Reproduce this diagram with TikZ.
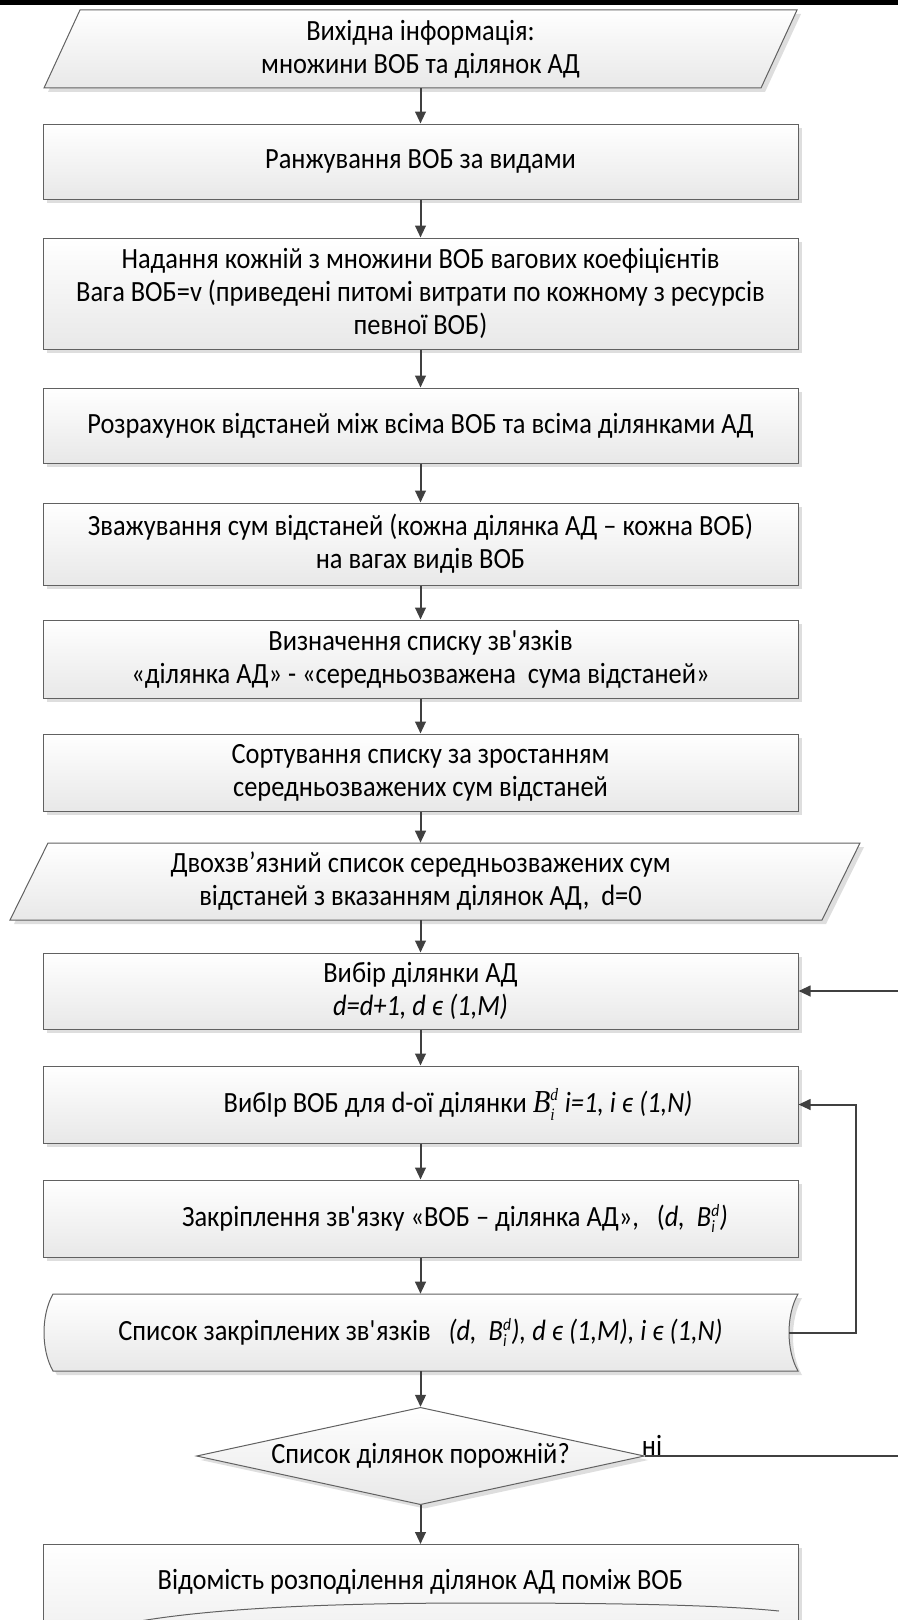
\documentclass[tikz,border=0pt]{standalone}
\usepackage{fontspec}
\setmainfont{Carlito}[FakeStretch=0.9]
\newfontfamily\timesf{Liberation Serif}[FakeStretch=0.9]
\usetikzlibrary{shapes.geometric,arrows.meta,shadows}
\newcommand\scr[1]{\mbox{\fontsize{13}{13}\selectfont #1}}
\newcommand\Bdi{B$^{\scr{d}}_{\scr{i}}$}
\newcommand\sq{\textquotesingle}
\begin{document}
\begin{tikzpicture}[x=0.75pt,y=-0.75pt,
  txt/.style={font={\fontsize{22}{24.75}\selectfont\lineskiplimit=-30pt}, align=center, inner sep=0pt},
  shp/.style={draw=black!62, line width=0.75pt, top color=white, bottom color=black!9,
    drop shadow={shadow xshift=3pt, shadow yshift=-3pt, fill=black!13, opacity=1}},
  box/.style={shp, txt, rectangle, minimum width=566.25pt},
  hole/.style={txt, minimum width=540pt},
  arr/.style={draw=black!75, line width=1.5pt, -{Triangle[length=9pt,width=8pt]}},
  thin/.style={draw=black!62, line width=0.75pt}
]
\useasboundingbox (0,0) rectangle (898,1620);
\fill[black] (0,0) rectangle (898,5);

% 1 input parallelogram
\path[shp] (80,10) -- (797,10) -- (761,88) -- (44,88) -- cycle;
\node[hole, minimum height=58.5pt] (p1) at (420.5,49) {Вихідна інформація:\\множини ВОБ та ділянок АД};

\node[box, minimum height=56.25pt] (b2) at (420.5,161.5) {Ранжування ВОБ за видами};
\node[box, minimum height=83.25pt] (b3) at (420.5,293.5) {Надання кожній з множини ВОБ вагових коефіцієнтів\\Вага ВОБ=v (приведені питомі витрати по кожному з ресурсів\\певної ВОБ)};
\node[box, minimum height=56.25pt] (b4) at (420.5,425.5) {Розрахунок відстаней між всіма ВОБ та всіма ділянками АД};
\node[box, minimum height=61.5pt] (b5) at (420.5,544) {Зважування сум відстаней (кожна ділянка АД – кожна ВОБ)\\на вагах видів ВОБ};
\node[box, minimum height=58.5pt] (b6) at (420.5,659) {Визначення списку зв\sq язків\\«ділянка АД» - «середньозважена\ \ сума відстаней»};
\node[box, minimum height=57.75pt] (b7) at (420.5,772.5) {Сортування списку за зростанням\\середньозважених сум відстаней};

% 8 parallelogram
\path[shp] (48,843) -- (860,843) -- (822,920) -- (10,920) -- cycle;
\node[hole, minimum height=57.75pt] (p8) at (420.5,881.5) {Двохзв’язний список середньозважених сум\\відстаней з вказанням ділянок АД,\ \ d=0};

\node[box, minimum height=57pt] (b9) at (420.5,991) {Вибір ділянки АД\\\textit{d=d+1, d ϵ (1,M)}};
\node[box, minimum height=57.75pt] (b10) at (420.5,1104.5) {};
\node[txt] (t10) at (458,1104.5) {ВибІр ВОБ для d-ої ділянки {\timesf\itshape\fontsize{24}{24}\selectfont\Bdi} \textit{i=1, i ϵ (1,N)}};
\node[box, minimum height=57.75pt] (b11) at (420.5,1218.5) {};
\node[txt] (t11) at (455,1218.5) {Закріплення зв\sq язку «ВОБ – ділянка АД»,\ \ \ (\textit{d,\ \ \Bdi)}};

% 12 stored data
\path[shp] (53,1294) -- (798,1294) .. controls (786,1315) and (786,1350) .. (798,1371)
  -- (53,1371) .. controls (41,1350) and (41,1315) .. (53,1294) -- cycle;
\node[hole, minimum height=57.75pt] (b12) at (420.5,1332.5) {Список закріплених зв\sq язків\ \ \ \textit{(d,\ \ \Bdi), d ϵ (1,M), i ϵ (1,N)}};
\coordinate (s12) at (789,1332.5);

% decision
\node[shp, txt, diamond, shape aspect=4.48, minimum width=336pt, minimum height=73pt] (dia) at (420.5,1456) {Список ділянок порожній?};
\node[txt, anchor=south west, inner sep=0.5pt] (ni) at ([xshift=-3pt]dia.east) {ні};

% final box (cut by the page edge)
\path[shp] (43,1544) rectangle (798,1680);
\draw[thin] (140,1621) .. controls (230,1606) and (360,1603) .. (480,1603)
  .. controls (620,1603) and (720,1605) .. (779,1611);
\node[hole, minimum width=566.25pt, minimum height=57pt, anchor=north] (b13) at (420.5,1544) {Відомість розподілення ділянок АД поміж ВОБ};

% connectors
\draw[arr] (p1) -- (b2);
\draw[arr] (b2) -- (b3);
\draw[arr] (b3) -- (b4);
\draw[arr] (b4) -- (b5);
\draw[arr] (b5) -- (b6);
\draw[arr] (b6) -- (b7);
\draw[arr] (b7) -- (p8);
\draw[arr] (p8) -- (b9);
\draw[arr] (b9) -- (b10);
\draw[arr] (b10) -- (b11);
\draw[arr] (b11) -- (b12);
\draw[arr] (b12) -- (dia);
\draw[arr] (dia) -- (b13);
\draw[arr] (s12) -- (856,1332.5) |- (b10.east);
\draw[arr] (dia.east) -- (900,1456) |- (b9.east);
\end{tikzpicture}
\end{document}
